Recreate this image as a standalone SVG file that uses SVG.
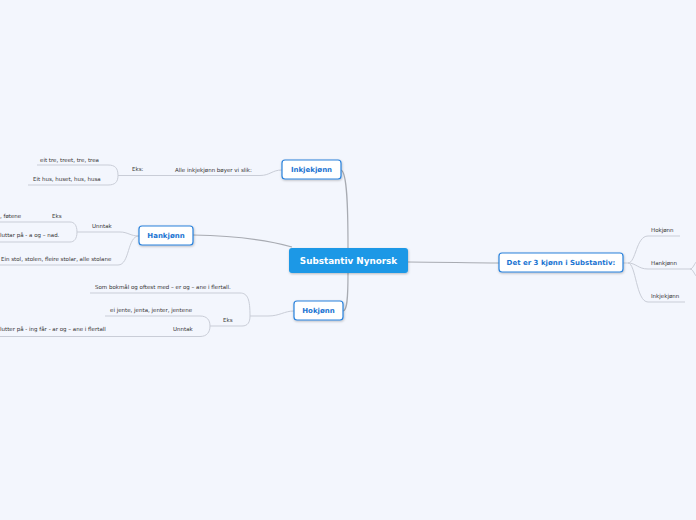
<svg xmlns="http://www.w3.org/2000/svg" width="696" height="520" viewBox="0 0 696 520">
<defs>
<filter id="sh" x="-20%" y="-30%" width="140%" height="170%">
<feDropShadow dx="0.5" dy="1" stdDeviation="1" flood-color="#000" flood-opacity="0.25"/>
</filter>
<style>
.main{fill:none;stroke:#a8abb2;stroke-width:1.2}
.sub{fill:none;stroke:#c9cdd7;stroke-width:1}
.lbl{font-family:"DejaVu Sans",Verdana,sans-serif;font-size:5.5px;fill:#333}
.nt{font-family:"DejaVu Sans",Verdana,sans-serif;font-size:7px;font-weight:bold;fill:#1b74d2;text-anchor:middle}
.node{fill:#fff;stroke:#2a82dc;stroke-width:1.2}
</style>
</defs>
<rect width="696" height="520" fill="#f3f6fd"/>
<g id="connectors">
<path class="main" d="M348 248 C348 205 347 172 341 170"/>
<path class="main" d="M193 235 C240 236 268 240 292 247"/>
<path class="main" d="M348 273 C348 300 347 311 343 311"/>
<path class="main" d="M408 262 C440 262 470 263 499 263"/>
<path class="sub" d="M282 170 C272 170 270 175.5 260 175.5 L118 175.5"/>
<path class="sub" d="M118 175.5 C118 168 115 165 108 165 L37 165"/>
<path class="sub" d="M118 175.5 C118 182 115 185 108 185 L28 185"/>
<path class="sub" d="M139 236 C130 236 128 232 120 232 L77 232"/>
<path class="sub" d="M77 232 C77 225 74 222 70 222 L0 222"/>
<path class="sub" d="M77 232 C77 239 74 242 70 242 L0 242"/>
<path class="sub" d="M139 236 C127 236 130 265 118 265 L0 265"/>
<path class="sub" d="M294 311 C284 311 280 316 268 316 L250 316"/>
<path class="sub" d="M250 316 C250 300 248 293 240 293 L90 293"/>
<path class="sub" d="M250 316 C250 322 248 326 242 326 L210 326"/>
<path class="sub" d="M210 326 C210 320 207 316 200 316 L105 316"/>
<path class="sub" d="M210 326 C210 332 207 336.5 200 336.5 L0 336.5"/>
<path class="sub" d="M623 263 L628 263"/>
<path class="sub" d="M628 263 C636 263 636 236 648 236 L680 236"/>
<path class="sub" d="M628 263 C636 263 638 269 648 269 L690 269"/>
<path class="sub" d="M628 263 C636 263 636 302 648 302 L685 302"/>
<path class="sub" d="M690 269 C693 269 694 264 697 261"/>
<path class="sub" d="M690 269 C693 269 694 274 697 277"/>
</g>
<g id="labels">
<text class="lbl" x="175" y="172">Alle inkjekjønn bøyer vi slik:</text>
<text class="lbl" x="132" y="171">Eks:</text>
<text class="lbl" x="40" y="162">eit tre, treet, tre, trea</text>
<text class="lbl" x="33" y="181">Eit hus, huset, hus, husa</text>
<text class="lbl" x="92" y="228">Unntak</text>
<text class="lbl" x="52" y="218">Eks</text>
<text class="lbl" x="0" y="218">, føtene</text>
<text class="lbl" x="0" y="237">luttar på - a og – nad.</text>
<text class="lbl" x="1" y="261">Ein stol, stolen, fleire stolar, alle stolane</text>
<text class="lbl" x="95" y="289">Som bokmål og oftest med – er og – ane i flertall.</text>
<text class="lbl" x="223" y="322">Eks</text>
<text class="lbl" x="110" y="312">ei jente, jenta, jenter, jentene</text>
<text class="lbl" x="173" y="331">Unntak</text>
<text class="lbl" x="0" y="331">lutter på - ing får - ar og – ane i flertall</text>
<text class="lbl" x="651" y="232">Hokjønn</text>
<text class="lbl" x="651" y="265">Hankjønn</text>
<text class="lbl" x="651" y="298">Inkjekjønn</text>
</g>
<g id="central">
<rect x="289" y="248" width="119" height="25" rx="3" fill="#1b98e6" filter="url(#sh)"/>
<text x="348.5" y="264" font-family="DejaVu Sans,Verdana,sans-serif" font-size="8.8" font-weight="bold" fill="#fff" text-anchor="middle">Substantiv Nynorsk</text>
</g>
<g id="inkjekjonn">
<rect class="node" x="282" y="160" width="59" height="19" rx="3" filter="url(#sh)"/>
<text class="nt" x="311.5" y="172.3">Inkjekjønn</text>
</g>
<g id="hankjonn">
<rect class="node" x="139" y="226" width="54" height="19" rx="3" filter="url(#sh)"/>
<text class="nt" x="166" y="238.3">Hankjønn</text>
</g>
<g id="hokjonn">
<rect class="node" x="294" y="301" width="49" height="19" rx="3" filter="url(#sh)"/>
<text class="nt" x="318.5" y="313.3">Hokjønn</text>
</g>
<g id="det-er">
<rect class="node" x="499" y="253" width="124" height="19" rx="3" filter="url(#sh)"/>
<text class="nt" x="561" y="265.3">Det er 3 kjønn i Substantiv:</text>
</g>
</svg>
